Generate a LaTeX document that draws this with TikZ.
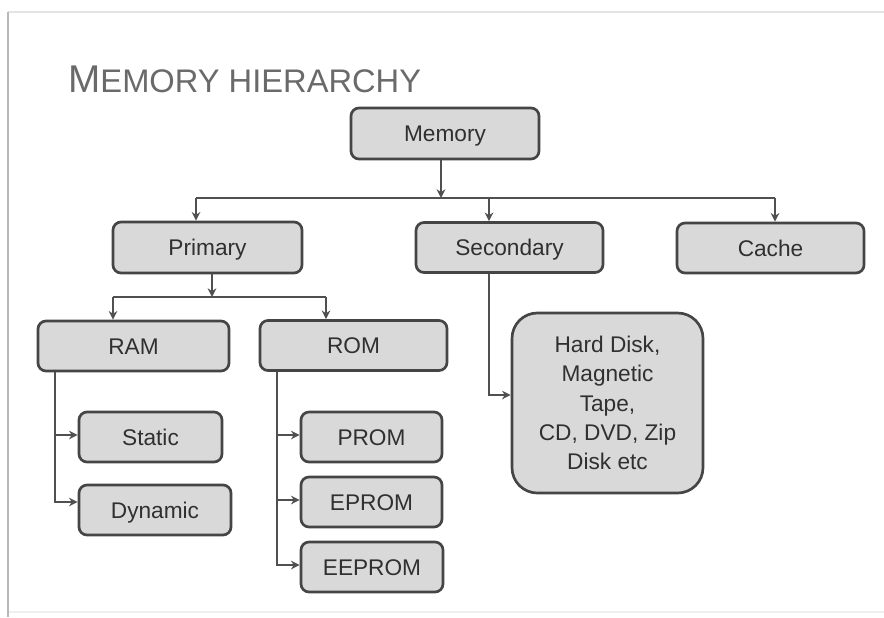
\documentclass[tikz,border=0pt]{standalone}
\usepackage{fontspec}
\setmainfont{Liberation Sans}
\usetikzlibrary{arrows.meta}

\definecolor{boxfill}{HTML}{D9D9D9}
\definecolor{bdr}{HTML}{454545}
\definecolor{lnc}{HTML}{505050}
\definecolor{txt}{HTML}{303030}
\definecolor{titlegray}{HTML}{6A6A6A}
\definecolor{framegray}{HTML}{B8B8B8}
\definecolor{framelight}{HTML}{E4E4E4}

\newcommand{\boxfont}{\fontsize{17}{22}\selectfont}

\tikzset{
  box/.style={draw=bdr, fill=boxfill, line width=2pt, rounded corners=6pt,
    text=txt, font=\boxfont, inner sep=0pt, align=center},
  oneline/.style={text height=12.2pt, text depth=0pt},
  sz/.style 2 args={minimum width=#1*0.75pt, minimum height=#2*0.75pt},
  conn/.style={draw=lnc, line width=1.5pt},
  arr/.style={conn, -{Stealth[length=6.5pt,width=6.5pt]}},
}

\begin{document}
\begin{tikzpicture}[x=0.75pt, y=-0.75pt]
  \useasboundingbox (0,0) rectangle (884,617);

  % slide frame
  \draw[framelight, line width=1.5pt] (8,12) -- (884,12);
  \draw[framelight!60, line width=1pt] (8,612) -- (884,612);
  \draw[framegray, line width=1.5pt] (8,12) -- (8,617);

  % title
  \node[anchor=base west, inner sep=0pt, text=titlegray] (title) at (68,93)
    {{\fontsize{29}{29}\selectfont M}{\fontsize{24.5}{24.5}\selectfont EMORY HIERARCHY}};

  % boxes
  \node[box, oneline, sz={188}{51}] (mem)    at (445,133.5) {Memory};
  \node[box, oneline, sz={189}{51}] (pri)    at (207.5,247.5) {Primary};
  \node[box, oneline, sz={187}{50}] (sec)    at (509.5,247.5) {Secondary};
  \node[box, oneline, sz={187}{50}] (cache)  at (770.5,248) {Cache};
  \node[box, oneline, sz={191}{50}] (ram)    at (133.5,346) {RAM};
  \node[box, oneline, sz={187}{50}] (rom)    at (353.5,345.5) {ROM};
  \node[box, oneline, sz={143}{50}] (static) at (150.5,437) {Static};
  \node[box, oneline, sz={152}{50}] (dyn)    at (155,510) {Dynamic};
  \node[box, oneline, sz={141}{50}] (prom)   at (371.5,437) {PROM};
  \node[box, oneline, sz={141}{50}] (eprom)  at (371.5,502) {EPROM};
  \node[box, oneline, sz={142}{50}] (eeprom) at (372,567) {EEPROM};
  \node[box, sz={191}{180}, rounded corners=19pt] (store) at (607.5,403)
    {Hard Disk,\\Magnetic\\Tape,\\CD, DVD, Zip\\Disk etc};

  % junction points on the buses
  \coordinate (j0) at (441,198);
  \coordinate (d1) at (196,198);
  \coordinate (d2) at (489,198);
  \coordinate (d3) at (775,198);
  \coordinate (j1) at (212,297);
  \coordinate (e1) at (113,297);
  \coordinate (e2) at (326,297);
  \coordinate (rx) at (55,346);
  \coordinate (ox) at (277,346);

  % Memory -> Primary / Secondary / Cache
  \draw[conn] (d1) -- (d3);
  \draw[arr] (j0 |- mem.south) -- (j0);
  \draw[arr] (d1) -- (d1 |- pri.north);
  \draw[arr] (d2) -- (d2 |- sec.north);
  \draw[arr] (d3) -- (d3 |- cache.north);

  % Primary -> RAM / ROM
  \draw[conn] (e1) -- (e2);
  \draw[arr] (j1 |- pri.south) -- (j1);
  \draw[arr] (e1) -- (e1 |- ram.north);
  \draw[arr] (e2) -- (e2 |- rom.north);

  % RAM -> Static / Dynamic
  \draw[arr] (rx |- ram.south) |- ([yshift=1.5pt]static.west);
  \draw[arr] (rx |- ram.south) |- ([yshift=6pt]dyn.west);

  % ROM -> PROM / EPROM / EEPROM
  \draw[arr] (ox |- rom.south) |- ([yshift=1.5pt]prom.west);
  \draw[arr] (ox |- rom.south) |- ([yshift=1.5pt]eprom.west);
  \draw[arr] (ox |- rom.south) |- ([yshift=1.5pt]eeprom.west);

  % Secondary -> storage media
  \draw[arr] (d2 |- sec.south) |- ([yshift=6pt]store.west);
\end{tikzpicture}
\end{document}
